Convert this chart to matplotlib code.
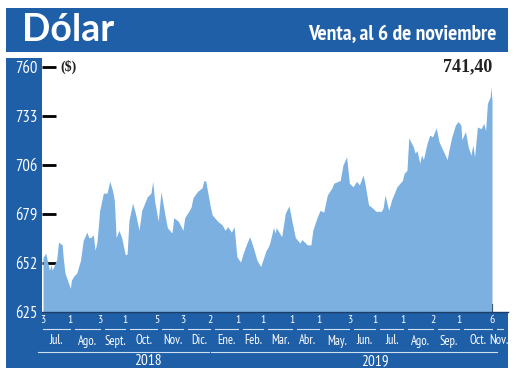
import matplotlib
matplotlib.use('Agg')
import matplotlib.pyplot as plt
import matplotlib.dates as mdates
import matplotlib.patches as mpatches
import matplotlib.transforms as mtrans
import pandas as pd

# ---------------- data ----------------
dates = [
    '2018-07-03', '2018-07-06', '2018-07-10', '2018-07-12', '2018-07-13', '2018-07-18', '2018-07-20',
    '2018-07-24', '2018-07-25', '2018-07-27', '2018-08-02', '2018-08-03', '2018-08-06', '2018-08-09',
    '2018-08-13', '2018-08-16', '2018-08-20', '2018-08-22', '2018-08-24', '2018-08-27', '2018-08-29',
    '2018-08-31', '2018-09-03', '2018-09-07', '2018-09-11', '2018-09-14', '2018-09-17', '2018-09-19',
    '2018-09-21', '2018-09-24', '2018-09-27', '2018-10-01', '2018-10-03', '2018-10-05', '2018-10-09',
    '2018-10-12', '2018-10-16', '2018-10-19', '2018-10-25', '2018-10-29', '2018-10-31', '2018-11-02',
    '2018-11-06', '2018-11-09', '2018-11-13', '2018-11-16', '2018-11-21', '2018-11-23', '2018-11-28',
    '2018-12-03', '2018-12-05', '2018-12-10', '2018-12-12', '2018-12-14', '2018-12-19', '2018-12-24',
    '2018-12-26', '2018-12-28', '2019-01-02', '2019-01-04', '2019-01-10', '2019-01-15', '2019-01-18',
    '2019-01-21', '2019-01-25', '2019-01-28', '2019-01-31', '2019-02-04', '2019-02-07', '2019-02-11',
    '2019-02-14', '2019-02-18', '2019-02-22', '2019-02-26', '2019-03-04', '2019-03-06', '2019-03-08',
    '2019-03-12', '2019-03-14', '2019-03-15', '2019-03-21', '2019-03-25', '2019-03-29', '2019-04-02',
    '2019-04-05', '2019-04-10', '2019-04-12', '2019-04-18', '2019-04-22', '2019-04-24', '2019-04-29',
    '2019-05-02', '2019-05-06', '2019-05-08', '2019-05-10', '2019-05-15', '2019-05-17', '2019-05-24',
    '2019-05-27', '2019-05-31', '2019-06-03', '2019-06-07', '2019-06-11', '2019-06-14', '2019-06-18',
    '2019-06-20', '2019-06-24', '2019-06-28', '2019-07-02', '2019-07-08', '2019-07-10', '2019-07-12',
    '2019-07-16', '2019-07-19', '2019-07-25', '2019-07-31', '2019-08-02', '2019-08-05', '2019-08-07',
    '2019-08-12', '2019-08-14', '2019-08-16', '2019-08-19', '2019-08-21', '2019-08-23', '2019-08-27',
    '2019-08-30', '2019-09-02', '2019-09-06', '2019-09-09', '2019-09-12', '2019-09-13', '2019-09-18',
    '2019-09-20', '2019-09-23', '2019-09-27', '2019-09-30', '2019-10-03', '2019-10-04', '2019-10-08',
    '2019-10-11', '2019-10-14', '2019-10-16', '2019-10-18', '2019-10-21', '2019-10-25', '2019-10-28',
    '2019-10-30', '2019-11-01', '2019-11-04', '2019-11-05', '2019-11-06',
]
values = [
    655, 657.5, 648, 651, 648, 654, 663.5,
    662, 655.5, 646.5, 638, 642.5, 645, 646.5,
    653.5, 664.5, 669, 666, 666, 667.5, 659,
    663.5, 681, 690.5, 690.5, 697, 692, 686.5,
    666, 670, 666, 656.5, 657, 675.5, 685,
    679.5, 670, 681, 688.5, 690.5, 697, 686.5,
    675, 691.5, 679.5, 671.5, 668.5, 677, 675,
    670, 677, 681, 683, 688, 691.5, 693.5,
    697.5, 697, 683, 678.5, 675, 673, 670,
    672, 669, 672, 655.5, 652.5, 657.5, 663,
    666.5, 660.5, 653.5, 650, 659, 660.5, 663,
    671.5, 668.5, 671.5, 666.5, 679.5, 683.5, 673,
    666, 663, 665, 662, 662, 670, 677.5,
    681, 680, 685, 689.5, 693.5, 696, 697.5,
    706, 710.5, 696, 694, 697, 695, 700.5,
    696, 684, 682.5, 680.5, 680.5, 682.5, 689.5,
    681, 686.5, 694, 697.5, 701.5, 703, 721,
    716, 712.5, 714, 707, 711.5, 709, 718,
    722.5, 721.5, 726.5, 719, 715.5, 714.5, 709,
    714.5, 721.5, 728, 730, 728, 720, 724.5,
    716, 711.5, 717, 710.5, 727, 726, 729,
    725, 740, 743.5, 749, 741.4,
]

ytick_values = [625, 652, 679, 706, 733, 760]
xtick_dates = ['2018-07-03', '2018-08-01', '2018-09-03', '2018-10-01', '2018-11-05', '2018-12-03',
               '2019-01-02', '2019-02-01', '2019-03-01', '2019-04-01', '2019-05-01', '2019-06-03',
               '2019-07-01', '2019-08-01', '2019-09-02', '2019-10-01', '2019-11-06']
xtick_labels = ['3', '1', '3', '1', '5', '3', '2', '1', '1', '1', '1', '3', '1', '1', '2', '1', '6']
month_labels = ['Jul.', 'Ago.', 'Sept.', 'Oct.', 'Nov.', 'Dic.', 'Ene.', 'Feb.', 'Mar.', 'Abr.',
                'May.', 'Jun.', 'Jul.', 'Ago.', 'Sep.', 'Oct.', 'Nov.']
year_labels = ['2018', '2019']
year_label_dates = ['2018-10-26', '2019-07-01']
year_spans = [('2018-06-28', '2018-12-31'), ('2019-01-03', '2019-11-12')]
title = 'Dólar'
subtitle = 'Venta, al 6 de noviembre'
unit_label = '($)'
last_label = '741,40'

# ---------------- styling ----------------
W, H = 520, 373
BLUE = '#1f5fa8'
AREA = '#7cb0e0'
NARROW = ['PT Sans Narrow', 'DejaVu Sans']

fig = plt.figure(figsize=(W / 100, H / 100), dpi=100)
fig.patch.set_facecolor('white')


def fx(px):
    return px / W


def fy(py):
    return 1 - py / H


def frect(x0, y0, x1, y1, **kw):
    fig.patches.append(mpatches.Rectangle((fx(x0), fy(y1)), (x1 - x0) / W, (y1 - y0) / H,
                                          transform=fig.transFigure, lw=0, zorder=-5, **kw))


# header / frame bands
frect(6, 8, 508, 52, color=BLUE)
frect(6, 58, 42, 368, color=BLUE)
frect(6, 312, 508, 368, color=BLUE)

fig.text(fx(22), fy(30), title, color='white', fontsize=27, fontweight='bold',
         family=['Lato', 'DejaVu Sans'], va='center', ha='left')
fig.text(fx(497), fy(40), subtitle, color='white', fontsize=15.5, fontweight='bold',
         family=NARROW, va='baseline', ha='right')

# ---------------- axes ----------------
ax = fig.add_axes([fx(42), fy(312), (508 - 42) / W, (312 - 58) / H])
ax.set_facecolor('white')
d = pd.to_datetime(dates)
ax.fill_between(d, values, 625, color=AREA, lw=0, zorder=2)

start, end = d[0], d[-1]
ax.set_xlim(start - pd.Timedelta(days=1.1), end + pd.Timedelta(days=17.5))
ax.set_ylim(625, 765)

for s in ['top', 'right', 'left']:
    ax.spines[s].set_visible(False)
ax.spines['bottom'].set_color('#1b3d66')
ax.spines['bottom'].set_linewidth(1.0)

ax.set_yticks(ytick_values)
ax.set_yticklabels([str(v) for v in ytick_values])
ax.tick_params(axis='y', direction='in', length=10, width=2, color='black',
               labelcolor='white', labelsize=12, pad=3)
for lbl in ax.get_yticklabels():
    lbl.set_family(NARROW)
ax.yaxis.get_major_ticks()[0].tick1line.set_visible(False)

ax.set_xticks([end])
ax.set_xticklabels([''])
ax.tick_params(axis='x', direction='in', length=6, width=1.5, color='black')

# unit label and last value
ax.text(0.039, 760, unit_label, transform=mtrans.blended_transform_factory(ax.transAxes, ax.transData),
        fontsize=10, fontweight='bold', family=['Liberation Serif', 'DejaVu Serif'],
        ha='left', va='center', color='#222222')
ax.text(end, 760, last_label, fontsize=13, fontweight='bold',
        family=['Liberation Serif', 'DejaVu Serif'], ha='right', va='center', color='#222222')

# ---------------- custom x axis labels in band ----------------
bt = mtrans.blended_transform_factory(ax.transData, fig.transFigure)
tick_d = pd.to_datetime(xtick_dates)
gap = pd.Timedelta(days=5.5)
for i, (td, lab) in enumerate(zip(tick_d, xtick_labels)):
    fig.text(mdates.date2num(td), fy(320), lab, transform=bt, color='white', fontsize=8.5,
             family=NARROW, ha='center', va='center')

xmax = mdates.num2date(ax.get_xlim()[1]).replace(tzinfo=None)
seg_ends = list(tick_d[1:]) + [pd.Timestamp(xmax) - pd.Timedelta(days=6)]
n = len(month_labels)
for i, (m, e) in enumerate(zip(month_labels, seg_ends)):
    s0 = tick_d[i] if i == 0 else tick_d[i] + gap
    line = plt.Line2D([mdates.date2num(s0), mdates.date2num(e)], [fy(329), fy(329)],
                      transform=bt, color='#cfe0f2', lw=0.8)
    fig.lines.append(line)
    if i == n - 1:
        fig.text(mdates.date2num(pd.Timestamp(xmax)), fy(341), m, transform=bt, color='white',
                 fontsize=9, family=NARROW, ha='right', va='center')
    else:
        mid = s0 + (e - s0) / 2
        fig.text(mdates.date2num(mid), fy(341), m, transform=bt, color='white', fontsize=9,
                 family=NARROW, ha='center', va='center')

for (a, b), y, yd in zip(year_spans, year_labels, year_label_dates):
    line = plt.Line2D([mdates.date2num(pd.Timestamp(a)), mdates.date2num(pd.Timestamp(b))],
                      [fy(352), fy(352)], transform=bt, color='#cfe0f2', lw=0.8)
    fig.lines.append(line)
    fig.text(mdates.date2num(pd.Timestamp(yd)), fy(361), y, transform=bt, color='white',
             fontsize=11, family=NARROW, ha='center', va='center')

fig.savefig('out.png', dpi=100)
